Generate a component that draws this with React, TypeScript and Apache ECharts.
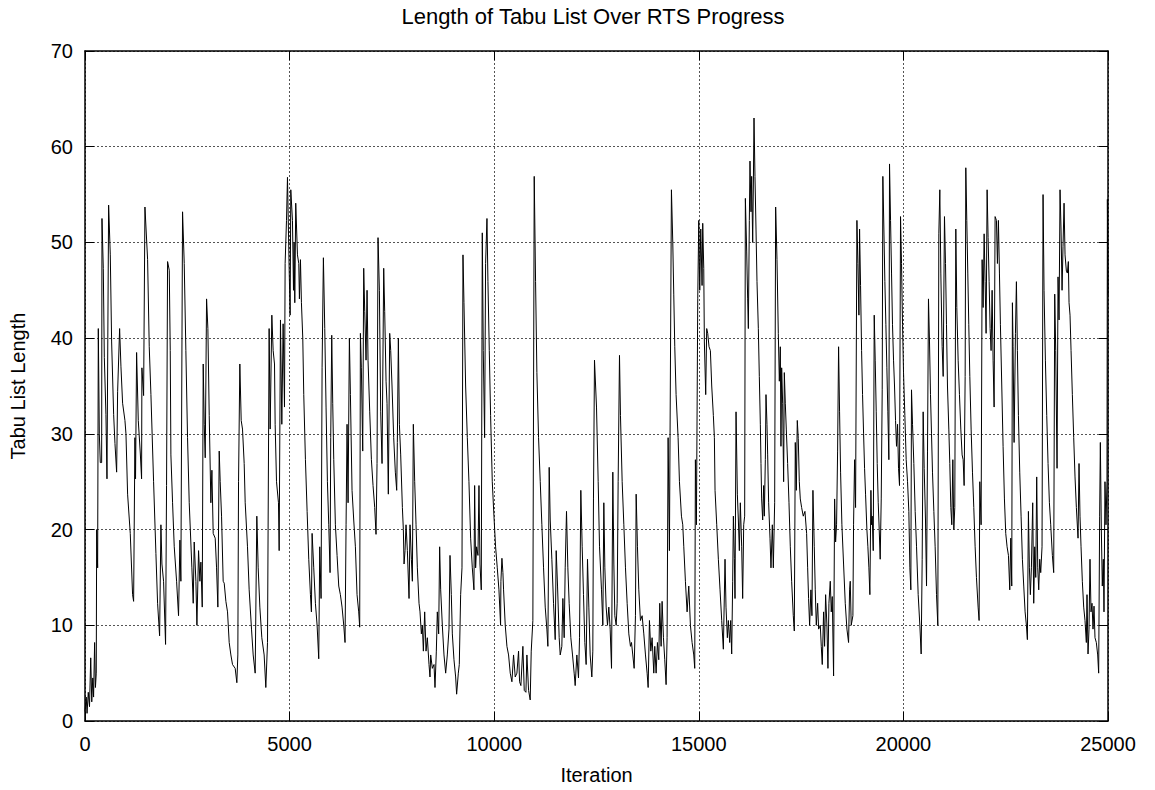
import React, { useEffect, useRef } from "react";
import * as echarts from "echarts";

const chartTitle = "Length of Tabu List Over RTS Progress";
const xAxisName = "Iteration";
const yAxisName = "Tabu List Length";
const xTicks = { min: 0, max: 25000, interval: 5000 };
const yTicks = { min: 0, max: 70, interval: 10 };

// [iteration, tabu list length]
const samples0to5k: [number, number][] = [
  [0,1],[30,2.5],[50,0.8],[80,3],[110,1.5],[140,6.6],[165,2],[190,4.5],[210,2.5],[235,8.2],[255,3.5],[275,5],[285,20],[309,16],[325,41],[350,30],[374,27],[407,27],[415,52.5],[447,47.3],[472,38],[512,32],[537,25.3],[577,53.9],[618,48.7],[651,39.6],[700,32],[732,29],[773,26],[797,34.4],[846,41],[879,37],[919,33.2],[976,31.4],[1001,30],[1041,23.7],[1106,19.6],[1163,13.2],[1188,12.5],[1220,29.6],[1235,25.3],[1261,38.5],[1302,31.4],[1351,28],[1383,25.3],[1391,36.9],[1432,34],[1465,53.7],[1530,48.2],[1570,39.1],[1611,34.1],[1676,25],[1733,17.5],[1774,12.3],[1823,8.9],[1855,20.5],[1880,16.4],[1920,14.6],[1969,8],[1993,24.6],[2018,48],[2059,47.1],[2083,38.7],[2099,27.8],[2140,22.8],[2181,18.2],[2238,14.6],[2286,11],[2319,18.9],[2343,14.6],[2384,53.2],[2425,47.8],[2465,38.7],[2506,29.6],[2547,22.8],[2612,16],[2645,12.3],[2669,18.7],[2710,14.6],[2735,10],[2775,17.8],[2808,14.6],[2832,16.6],[2865,11.9],[2889,37.3],[2914,31],[2938,27.5],[2971,44.1],[3003,41],[3036,31.9],[3076,22.8],[3101,26.2],[3133,19.6],[3182,19.1],[3215,16],[3247,11.9],[3280,28.2],[3304,25],[3337,21.4],[3377,14.6],[3402,14.4],[3443,12.5],[3483,11.4],[3524,8.2],[3565,6.9],[3605,5.9],[3670,5.5],[3711,4],[3735,6.9],[3752,25],[3784,37.3],[3817,31.4],[3849,30.5],[3890,26.9],[3915,22.8],[3971,18.2],[4012,13.7],[4069,9.6],[4110,6.9],[4159,5],[4199,21.4],[4232,16],[4273,11.9],[4321,8.7],[4378,6.9],[4419,3.5],[4460,8.2],[4500,41],[4525,30.5],[4566,42.4],[4598,38.7],[4631,37.3],[4647,31],[4680,25],[4728,22.8],[4745,17.8],[4777,41.9],[4810,31],[4842,41.5],[4875,32.8],[4891,47.8],[4924,52.3],[4948,56.8],[4989,47.3]
];

const samples5kto10k: [number, number][] = [
  [5013,42.4],[5029,55.5],[5070,52.3],[5095,45],[5110,50],[5127,43.7],[5150,54.1],[5192,48.7],[5224,47.8],[5240,44.1],[5265,48.2],[5289,43.7],[5322,40],[5346,34.1],[5387,27.3],[5428,21.9],[5468,16.9],[5509,13.2],[5533,11.4],[5550,19.6],[5590,16],[5631,12.3],[5672,10],[5712,6.5],[5737,18.2],[5769,12.8],[5794,36.9],[5826,48.4],[5859,41],[5891,32.8],[5924,25],[5957,20.5],[5989,15.5],[6005,29.6],[6030,40.3],[6054,33.2],[6079,27.3],[6119,20.5],[6160,17.3],[6201,14.1],[6241,13.2],[6282,11.9],[6323,10],[6355,8.2],[6380,20.5],[6404,31],[6429,22.8],[6461,40],[6486,34.1],[6526,24.1],[6567,21],[6608,18.2],[6648,13.2],[6689,11.4],[6713,9.8],[6730,40.5],[6754,36.9],[6787,28.2],[6811,47.3],[6836,42.8],[6868,37.7],[6893,45],[6917,37.7],[6958,32.3],[6999,27.3],[7039,24.6],[7080,22.3],[7112,19.5],[7137,26.9],[7161,50.5],[7194,45],[7226,32.3],[7259,26.9],[7300,47.3],[7324,42.8],[7357,35.5],[7381,33.2],[7413,23.7],[7446,40.5],[7471,38.7],[7503,35],[7544,29.6],[7584,26],[7617,24.1],[7633,29.1],[7658,40],[7683,31],[7715,27.8],[7756,22.3],[7780,20],[7797,16.4],[7821,17.8],[7845,20.5],[7878,17.8],[7919,12.8],[7943,20.5],[7976,16.9],[8000,14.6],[8024,31],[8057,25],[8090,20.5],[8122,16],[8163,12.3],[8187,11.4],[8220,9.1],[8244,10],[8269,7.3],[8301,11.4],[8334,7.3],[8366,8.7],[8407,5.9],[8431,4.6],[8448,6.9],[8488,5.5],[8529,5.9],[8553,3.5],[8586,7.3],[8610,11.4],[8643,9.1],[8667,18.2],[8692,13.7],[8732,10],[8773,6.9],[8814,5],[8854,6.9],[8895,9.6],[8920,17.3],[8952,13.2],[8977,9.1],[9017,6.4],[9058,4.6],[9082,2.8],[9123,5],[9147,5.9],[9180,13.2],[9213,16],[9237,48.7],[9261,43.7],[9302,35],[9343,29.6],[9383,25],[9424,19.1],[9465,16],[9505,13.7],[9522,24.6],[9546,16],[9570,18.2],[9603,17.3],[9628,24.6],[9652,16.4],[9684,13.7],[9709,51],[9733,38.7],[9766,29.6],[9790,47.8],[9823,52.5],[9847,45.9],[9880,38.7],[9912,31.9],[9953,25],[9994,21.4]
];

const samples10kto15k: [number, number][] = [
  [10034,18.2],[10075,16],[10116,13.7],[10156,10],[10164,14.6],[10189,17],[10213,15.5],[10229,13.7],[10270,10],[10311,7.8],[10351,6.9],[10392,5],[10433,4.1],[10473,6.9],[10514,4.6],[10555,5],[10595,7.3],[10620,4.1],[10652,3.7],[10701,7.8],[10734,3.2],[10775,3],[10799,6.9],[10840,3.2],[10880,2.2],[10905,7.3],[10945,10.5],[10978,56.9],[11011,45.9],[11043,36.4],[11084,29.6],[11125,25],[11165,20.5],[11206,16],[11247,11.9],[11287,9.6],[11312,7.8],[11344,26.5],[11369,21],[11409,16.9],[11450,12.3],[11491,8.5],[11515,17.8],[11548,14.1],[11588,8.7],[11613,6.9],[11653,7.8],[11678,12.8],[11710,8.7],[11735,16],[11767,21.9],[11800,16],[11832,12.3],[11873,8.7],[11914,6.9],[11954,5],[11979,3.7],[12020,6.9],[12060,4.5],[12085,8.7],[12117,24.1],[12150,18.2],[12182,13.2],[12215,8.2],[12247,5.9],[12280,16.9],[12313,11.9],[12345,6.9],[12386,4.6],[12410,7.3],[12426,23.2],[12451,37.7],[12500,32.8],[12541,25],[12574,18.2],[12622,13.7],[12655,10],[12679,22.8],[12704,16],[12736,11.9],[12769,10],[12801,11.9],[12834,9.6],[12867,5.5],[12899,26],[12924,16.4],[12948,11],[12981,10],[13005,12.3],[13029,25],[13062,38.2],[13086,31.9],[13127,25],[13168,20.5],[13208,16],[13249,12.3],[13290,9.1],[13330,7.8],[13355,8.2],[13387,6.9],[13420,5.5],[13452,11],[13469,23.7],[13501,18.2],[13534,13.7],[13574,10.5],[13615,11],[13656,9.1],[13697,6.9],[13737,5],[13762,3.5],[13794,10.5],[13827,7.3],[13859,8.7],[13900,5],[13924,7.8],[13957,5],[13989,8.2],[14022,6.4],[14046,12.3],[14079,7.8],[14103,12.5],[14136,8.7],[14168,6.4],[14201,3.8],[14225,8.7],[14250,29.6],[14282,17.8],[14331,55.5],[14364,50],[14388,44.6],[14413,39.1],[14445,34.1],[14494,29.6],[14527,25],[14576,21.4],[14608,20.5],[14633,18.2],[14673,14.6],[14714,11.4],[14755,14.1],[14795,10],[14836,8.2],[14877,6.9],[14901,5.5],[14917,27.3],[14942,20.5],[14974,44.1],[14999,52.3]
];

const samples15kto20k: [number, number][] = [
  [15023,45],[15048,51.4],[15080,45.5],[15096,52],[15121,47.3],[15136,39.6],[15169,34.1],[15193,41],[15218,40.5],[15250,39.1],[15283,38.7],[15316,35],[15356,31.9],[15381,29.6],[15397,24.1],[15438,20.5],[15478,16.9],[15519,13.7],[15560,10.5],[15600,7.5],[15641,16.9],[15665,11.9],[15698,8.7],[15722,10.5],[15755,8.2],[15779,10.5],[15804,7],[15828,14.6],[15845,21.4],[15869,17],[15885,12.8],[15910,32.3],[15942,23.7],[15967,21],[15991,17.8],[16015,22.8],[16048,18.2],[16072,12.8],[16097,20.5],[16121,21.4],[16138,54.6],[16170,49.1],[16194,44.1],[16211,41],[16235,52.3],[16251,58.5],[16276,53.2],[16292,56.9],[16317,50],[16333,56],[16349,63],[16373,56.9],[16398,51.4],[16422,45.9],[16455,41],[16479,36],[16504,31],[16520,26.9],[16536,23.2],[16561,21],[16585,24.6],[16601,21.4],[16626,27.3],[16642,34.1],[16666,31],[16683,27.8],[16707,22.8],[16740,19.1],[16764,16],[16797,20.5],[16821,16],[16854,22.8],[16878,53.7],[16911,48.2],[16943,40.5],[16968,35.5],[16992,39.1],[17008,28.7],[17025,36.9],[17049,33.2],[17073,25],[17090,36.4],[17114,33.2],[17138,30.5],[17171,26.9],[17204,22.8],[17236,18.2],[17269,14.6],[17309,11],[17334,9.4],[17358,29.1],[17383,24.1],[17407,31.4],[17431,29.5],[17456,25],[17480,23.2],[17513,22.3],[17553,21.4],[17594,21.9],[17635,19.6],[17660,16],[17683,12.8],[17708,10],[17740,13.7],[17765,11],[17789,24.1],[17822,18.2],[17846,13.7],[17871,10],[17904,12.3],[17928,9.6],[17969,10],[17993,7.8],[18017,5.9],[18050,11.4],[18074,7.8],[18099,13.2],[18131,10],[18156,5.5],[18180,12.3],[18213,14.6],[18237,11.4],[18262,13],[18294,4.7],[18319,23.2],[18343,18.7],[18367,20.5],[18392,28.2],[18416,39.1],[18440,32.3],[18465,26],[18497,20.5],[18538,16.4],[18579,12.3],[18620,9.6],[18660,8.2],[18685,13.7],[18701,14.6],[18725,10],[18766,11],[18782,20.5],[18807,27.3],[18831,22.3],[18864,52.3],[18888,47.8],[18913,42.4],[18929,51.4],[18953,45.5],[18978,38.7],[19002,34.1],[19027,30],[19051,26.4],[19075,23.7],[19108,20],[19132,18.2],[19157,16],[19181,13.2],[19206,24.1],[19222,20.5],[19238,21.4],[19263,17.8],[19287,42.4],[19311,37.7],[19336,32.3],[19360,26.9],[19385,22.8],[19409,20],[19433,16.9],[19458,23.2],[19482,34.6],[19498,56.9],[19523,51.4],[19547,45.9],[19572,41.4],[19596,36.9],[19620,32.3],[19645,27.3],[19661,58.2],[19686,52.3],[19710,46.8],[19734,41.4],[19759,37.7],[19783,35],[19808,31.4],[19832,28.7],[19857,31],[19881,26.4],[19905,24.6],[19930,52.7],[19954,47.8],[19979,41.4]
];

const samples20kto25k: [number, number][] = [
  [20003,36.4],[20036,31.9],[20068,27.3],[20101,25],[20133,21.9],[20158,16],[20182,13.7],[20198,34.6],[20223,31],[20255,26.9],[20288,21.9],[20321,18.2],[20361,13.2],[20402,10],[20434,7],[20459,16.9],[20483,32.3],[20508,26.4],[20540,21],[20565,14.1],[20589,28.2],[20613,44.1],[20638,39.6],[20662,34.1],[20687,30],[20711,26],[20744,21.9],[20776,18.2],[20809,13.2],[20841,10],[20866,50.9],[20890,55.5],[20915,46.8],[20947,39.1],[20972,36],[21004,52.7],[21029,47.8],[21053,41.4],[21077,35],[21110,30.5],[21134,26.9],[21159,22.3],[21183,20.5],[21208,27.3],[21232,20],[21256,22.3],[21281,51.4],[21305,43.2],[21338,37.7],[21370,34.1],[21403,30.5],[21435,27.8],[21460,27.3],[21484,24.6],[21509,36],[21525,57.8],[21549,52.3],[21574,46.8],[21598,41.4],[21623,36],[21655,30.5],[21688,26],[21720,22.3],[21753,18.2],[21785,15],[21826,11.9],[21850,10.5],[21867,25],[21899,20.5],[21924,48.2],[21948,43.2],[21973,50.9],[21997,45.9],[22021,40.5],[22046,55.5],[22070,50.5],[22095,45.9],[22119,41],[22143,38.7],[22168,45],[22192,37.7],[22217,32.8],[22241,52.7],[22274,52.3],[22298,47.8],[22322,52.3],[22347,46.8],[22371,41.4],[22404,35],[22436,28.7],[22469,23.2],[22501,19.6],[22534,18.2],[22567,17.3],[22599,13.7],[22624,19.1],[22648,14.1],[22664,43.7],[22680,39.1],[22705,29.1],[22738,40.5],[22762,45.9],[22786,38.7],[22811,31.9],[22843,26],[22876,21.4],[22908,16.9],[22941,14.1],[22974,11.4],[23006,10],[23030,8.5],[23055,21.9],[23079,16],[23103,13.2],[23128,16],[23160,22.8],[23185,12.3],[23209,18.2],[23234,15],[23258,25.5],[23283,16],[23307,13.7],[23331,16.9],[23356,15.5],[23388,18.2],[23413,55],[23437,45],[23470,37.7],[23503,31.9],[23535,26.9],[23568,22.8],[23600,20.5],[23641,17.3],[23673,15.5],[23698,44.6],[23722,38.7],[23755,26.4],[23779,46.4],[23804,41.9],[23828,55.5],[23852,51.4],[23877,45],[23901,49.6],[23926,54.1],[23950,48.7],[23983,47],[24007,46.8],[24031,48],[24048,43.7],[24072,42.4],[24097,38.7],[24129,34.1],[24162,29.6],[24194,25.5],[24227,22.3],[24268,19.1],[24292,26.9],[24316,21.4],[24341,18.2],[24373,14.6],[24406,11.9],[24438,10.5],[24471,8.2],[24487,13.2],[24512,7],[24536,9.6],[24560,16.9],[24585,11.4],[24609,12.3],[24634,9.6],[24658,12],[24682,8.7],[24715,8.2],[24748,6.9],[24772,5],[24796,21.4],[24813,29.1],[24837,20],[24861,14.1],[24886,16.9],[24902,11.4],[24926,25],[24951,20.5],[24975,25],[24985,54.5],[25000,44.5]
];

const FONT = "'Liberation Sans', Arial, sans-serif";

export default function App() {
  const ref = useRef<HTMLDivElement>(null);
  useEffect(() => {
    if (!ref.current) return;
    const chart = echarts.init(ref.current, null, { renderer: "svg" });
    const data = [
      ...samples0to5k,
      ...samples5kto10k,
      ...samples10kto15k,
      ...samples15kto20k,
      ...samples20kto25k,
    ];
    const axisLine = { show: true, onZero: false, lineStyle: { color: "#000", width: 1.5 } };
    const tick = { show: true, inside: true, length: 9, lineStyle: { color: "#000", width: 1 } };
    const grid = { show: true, lineStyle: { color: "#555", width: 1, type: [2, 2] as number[] } };
    chart.setOption({
      animation: false,
      backgroundColor: "#fff",
      textStyle: { fontFamily: FONT },
      grid: { left: 84, right: 47, top: 51, bottom: 68, containLabel: false },
      graphic: [
        {
          type: "text",
          x: 593,
          y: 16,
          style: {
            text: chartTitle,
            fill: "#000",
            font: `22px ${FONT}`,
            textAlign: "center",
            textVerticalAlign: "middle",
          },
        },
      ],
      xAxis: [
        {
          type: "value",
          position: "bottom",
          min: xTicks.min,
          max: xTicks.max,
          interval: xTicks.interval,
          axisLine,
          axisTick: tick,
          splitLine: grid,
          axisLabel: {
            color: "#000",
            fontSize: 20,
            margin: 13,
            fontFamily: FONT,
            formatter: (v: number) => String(v),
          },
          name: xAxisName,
          nameLocation: "middle",
          nameGap: 44,
          nameTextStyle: { color: "#000", fontSize: 20, fontFamily: FONT },
        },
        {
          type: "value",
          position: "top",
          min: xTicks.min,
          max: xTicks.max,
          interval: xTicks.interval,
          axisLine,
          axisTick: tick,
          splitLine: { show: false },
          axisLabel: { show: false },
        },
      ],
      yAxis: [
        {
          type: "value",
          position: "left",
          min: yTicks.min,
          max: yTicks.max,
          interval: yTicks.interval,
          axisLine,
          axisTick: tick,
          splitLine: grid,
          axisLabel: { color: "#000", fontSize: 20, margin: 12, fontFamily: FONT },
          name: yAxisName,
          nameLocation: "middle",
          nameGap: 57,
          nameTextStyle: { color: "#000", fontSize: 20, fontFamily: FONT },
        },
        {
          type: "value",
          position: "right",
          min: yTicks.min,
          max: yTicks.max,
          interval: yTicks.interval,
          axisLine,
          axisTick: tick,
          splitLine: { show: false },
          axisLabel: { show: false },
        },
      ],
      series: [
        {
          type: "line",
          xAxisIndex: 0,
          yAxisIndex: 0,
          data,
          showSymbol: false,
          symbol: "none",
          lineStyle: { color: "#000", width: 1 },
        },
      ],
    });
    return () => chart.dispose();
  }, []);
  return (
    <div
      ref={ref}
      style={{ position: "fixed", left: 0, top: 0, width: 1155, height: 790, background: "#fff" }}
    />
  );
}
